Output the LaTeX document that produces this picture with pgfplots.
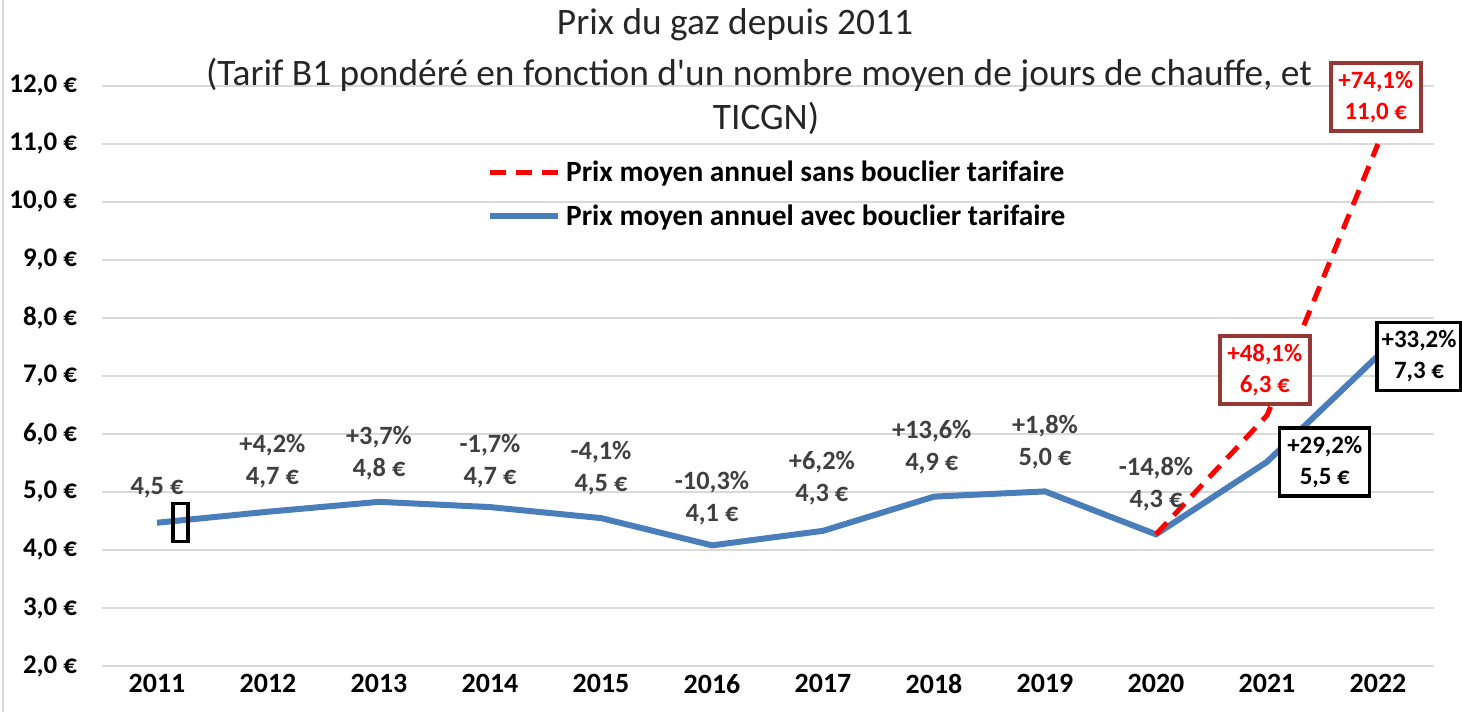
\documentclass[border=0pt]{standalone}
\usepackage{fontspec}
\setmainfont{Carlito}
\usepackage{pgfplots}
\pgfplotsset{compat=1.18}
\definecolor{gridc}{HTML}{D9D9D9}
\definecolor{blueline}{HTML}{4A7EBB}
\definecolor{labgray}{HTML}{404040}
\definecolor{boxred}{HTML}{953735}
\definecolor{titlec}{HTML}{262626}
\begin{document}
\begin{tikzpicture}
\begin{axis}[
  at={(101.5bp,46bp)}, anchor=south west,
  scale only axis, width=1332bp, height=580bp,
  xmin=2010.5, xmax=2022.5, ymin=2, ymax=12,
  xtick={2011,2012,2013,2014,2015,2016,2017,2018,2019,2020,2021,2022},
  xticklabels={2011,2012,2013,2014,2015,2016,2017,2018,2019,2020,2021,2022},
  ytick={2,3,4,5,6,7,8,9,10,11,12},
  yticklabels={{2,0~€},{3,0~€},{4,0~€},{5,0~€},{6,0~€},{7,0~€},{8,0~€},{9,0~€},{10,0~€},{11,0~€},{12,0~€}},
  xticklabel style={font=\fontsize{28}{32}\selectfont\bfseries, text=black, yshift=-5bp},
  yticklabel style={font=\fontsize{27}{32}\selectfont\bfseries, text=black, xshift=-21bp},
  /pgf/number format/assume math mode=true,
  ymajorgrids, grid style={gridc, line width=1.5bp},
  axis line style={draw=none},
  major tick length=0pt,
  clip=false,
  legend cell align=left,
  legend style={draw=none, fill=none, at={(0.2894,0.8897)}, anchor=north west, inner sep=0pt,
    row sep=0bp, font=\fontsize{29.5}{34}\selectfont\bfseries,
    nodes={inner xsep=5bp, inner ysep=0bp, minimum height=44bp}},
  legend image code/.code={\draw[#1] (0bp,0bp) -- (68bp,0bp);},
]
\addlegendimage{red, line width=5bp, dash pattern=on 16bp off 10bp}
\addlegendentry{Prix moyen annuel sans bouclier tarifaire}
\addlegendimage{blueline, line width=6bp}
\addlegendentry{Prix moyen annuel avec bouclier tarifaire}

\addplot[blueline, line width=6bp, forget plot] coordinates {
(2011,4.47)(2012,4.66)(2013,4.83)(2014,4.74)(2015,4.55)(2016,4.08)
(2017,4.33)(2018,4.92)(2019,5.01)(2020,4.27)(2021,5.52)(2022,7.35)};
\addplot[red, line width=5bp, dash pattern=on 16bp off 10bp, forget plot] coordinates {
(2020,4.27)(2021,6.32)(2022,11.0)};

\tikzset{lab/.style={font=\fontsize{26.5}{32}\selectfont\bfseries, text=labgray, align=center, inner sep=0pt}}
\node[lab] at (axis cs:2011,5.07) {4,5~€};
\node[lab] at (axis cs:2012.04,5.53) {+4,2\%\\4,7~€};
\node[lab] at (axis cs:2013.0,5.67) {+3,7\%\\4,8~€};
\node[lab] at (axis cs:2014.0,5.53) {-1,7\%\\4,7~€};
\node[lab] at (axis cs:2015.0,5.41) {-4,1\%\\4,5~€};
\node[lab] at (axis cs:2016.0,4.90) {-10,3\%\\4,1~€};
\node[lab] at (axis cs:2016.99,5.24) {+6,2\%\\4,3~€};
\node[lab] at (axis cs:2017.98,5.78) {+13,6\%\\4,9~€};
\node[lab] at (axis cs:2019.0,5.86) {+1,8\%\\5,0~€};
\node[lab] at (axis cs:2020.0,5.14) {-14,8\%\\4,3~€};

\tikzset{bx/.style={lab, font=\fontsize{25}{31}\selectfont\bfseries, fill=white, line width=3.5bp, minimum width=90bp, minimum height=68bp}}
\node[bx, draw=boxred, text=red] at (axis cs:2020.98,7.10) {+48,1\%\\6,3~€};
\node[bx, draw=boxred, text=red] at (axis cs:2021.98,11.81) {+74,1\%\\11,0~€};
\node[bx, draw=black, text=black] at (axis cs:2021.52,5.52) {+29,2\%\\5,5~€};
\node[bx, draw=black, text=black, minimum width=84bp] at (axis cs:2022.37,7.34) {+33,2\%\\7,3~€};
\node[draw=black, line width=3.5bp, fill=none, minimum width=15bp, minimum height=38bp, inner sep=0pt] at (axis cs:2011.21,4.47) {};
\end{axis}
\draw[gray!30, line width=1.5bp] (3bp,0bp) -- (3bp,712bp);
\tikzset{ttl/.style={font=\fontsize{37.5}{42}\selectfont, text=titlec, inner sep=0pt}}
\node[ttl] at (735bp,687bp) {Prix du gaz depuis 2011};
\node[ttl] at (759bp,637bp) {(Tarif B1 pondéré en fonction d\textquotesingle un nombre moyen de jours de chauffe, et};
\node[ttl] at (766bp,594bp) {TICGN)};
\pgfresetboundingbox
\path[use as bounding box] (0bp,0bp) rectangle (1462bp,712bp);
\end{tikzpicture}
\end{document}
